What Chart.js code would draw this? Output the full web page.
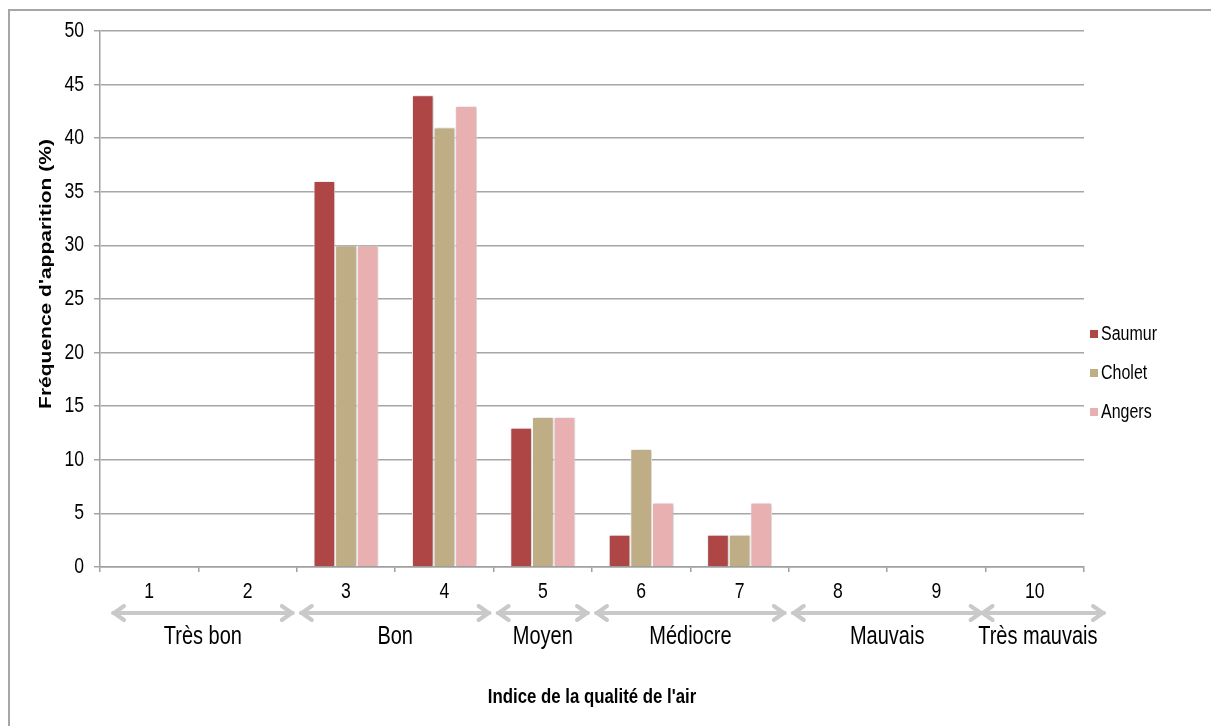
<!DOCTYPE html>
<html><head><meta charset="utf-8">
<script src="https://cdn.jsdelivr.net/npm/chart.js@4.4.0/dist/chart.umd.min.js"></script>
<style>
html,body{margin:0;padding:0;background:#fff;}
#wrap{position:relative;width:1211px;height:726px;overflow:hidden;}
#frame{position:absolute;left:8px;top:9px;width:1240px;height:760px;border:2px solid #a6a6a6;box-sizing:border-box;}
canvas{position:absolute;left:0;top:0;}
</style></head><body>
<div id="wrap"><div id="frame"></div><canvas id="c" width="1211" height="726"></canvas></div>
<script>
const categories = ['1','2','3','4','5','6','7','8','9','10'];
const saumur = [0, 0, 36, 44, 13, 3, 3, 0, 0, 0];
const cholet = [0, 0, 30, 41, 14, 11, 3, 0, 0, 0];
const angers = [0, 0, 30, 43, 14, 6, 6, 0, 0, 0];
const seriesNames = ['Saumur', 'Cholet', 'Angers'];
const seriesColors = ['#ad4645', '#bfad85', '#e8b0b1'];
const yMin = 0, yMax = 50, yStep = 5;
const groupLabels = ['Très bon', 'Bon', 'Moyen', 'Médiocre', 'Mauvais', 'Très mauvais'];
const groupFirst = ['1', '3', '5', '6', '8', '10'];
const groupLast = ['2', '4', '5', '7', '9', '10'];
const yTitle = "Fréquence d'apparition (%)";
const xTitle = "Indice de la qualité de l'air";

const FONT = "'Liberation Sans', Arial, sans-serif";
const SX = 0.8; // condensed look of the original lettering
Chart.defaults.font.family = FONT;
Chart.defaults.color = '#000';

function drawText(ctx, s, x, y, size, bold, align, rotated) {
  ctx.save();
  ctx.translate(x, y);
  if (rotated) { ctx.rotate(-Math.PI / 2); ctx.scale(1, SX); }
  else ctx.scale(SX, 1);
  ctx.font = (bold ? 'bold ' : '') + size + 'px ' + FONT;
  ctx.fillStyle = '#000'; ctx.textAlign = align; ctx.textBaseline = 'middle';
  ctx.fillText(s, 0, 0);
  ctx.restore();
}

const shadowPlugin = {
  id: 'shadow',
  beforeDatasetsDraw(chart) {
    const ctx = chart.ctx; ctx.save();
    ctx.shadowColor = 'rgba(0,0,0,0.28)'; ctx.shadowBlur = 3; ctx.shadowOffsetX = 1; ctx.shadowOffsetY = 0;
  },
  afterDatasetsDraw(chart) { chart.ctx.restore(); }
};

const extrasPlugin = {
  id: 'extras',
  afterDraw(chart) {
    const ctx = chart.ctx, xs = chart.scales.x, ys = chart.scales.y;
    // tick labels
    ys.ticks.forEach((t, i) => drawText(ctx, String(t.value), 84, ys.getPixelForTick(i), 22, false, 'right'));
    categories.forEach((c, i) => drawText(ctx, c, xs.getPixelForValue(i), 592, 22, false, 'center'));
    // axis titles
    drawText(ctx, xTitle, (chart.chartArea.left + chart.chartArea.right) / 2, 697, 21, true, 'center');
    drawText(ctx, yTitle, 46, 274, 21, true, 'center', true);
    // group arrows + labels
    const half = (xs.getPixelForValue(1) - xs.getPixelForValue(0)) / 2;
    const ay = 613, ly = 637, n = groupLabels.length;
    ctx.save();
    ctx.strokeStyle = '#c9c9c9'; ctx.lineWidth = 4; ctx.lineCap = 'round'; ctx.lineJoin = 'round';
    groupLabels.forEach((g, i) => {
      const a = xs.getPixelForValue(categories.indexOf(groupFirst[i])) - half + (i === 0 ? 13 : 4);
      const b = xs.getPixelForValue(categories.indexOf(groupLast[i])) + half + (i === n - 1 ? 20 : -4);
      const a2 = i === n - 1 ? a - 8 : a;
      ctx.beginPath(); ctx.moveTo(a2, ay); ctx.lineTo(b, ay); ctx.stroke();
      ctx.beginPath(); ctx.moveTo(a2 + 11, ay - 7); ctx.lineTo(a2 + 1, ay); ctx.lineTo(a2 + 11, ay + 7); ctx.stroke();
      ctx.beginPath(); ctx.moveTo(b - 11, ay - 7); ctx.lineTo(b - 1, ay); ctx.lineTo(b - 11, ay + 7); ctx.stroke();
      drawText(ctx, g, (a2 + b) / 2 - (i === n - 1 ? 5 : 0), ly, 25, false, 'center');
    });
    ctx.restore();
    // legend
    const lx = 1090, l0 = 334, dy = 39;
    seriesNames.forEach((nm, i) => {
      const y = l0 + i * dy;
      ctx.fillStyle = seriesColors[i]; ctx.fillRect(lx, y - 4, 8, 8);
      drawText(ctx, nm, lx + 11, y, 20, false, 'left');
    });
  }
};

const datasets = [saumur, cholet, angers].map((d, i) => ({
  label: seriesNames[i], data: d, backgroundColor: seriesColors[i],
  borderColor: '#ffffff', borderWidth: 1, borderSkipped: 'bottom',
  categoryPercentage: 0.66, barPercentage: 1.0
}));

new Chart(document.getElementById('c'), {
  type: 'bar',
  data: { labels: categories, datasets },
  plugins: [shadowPlugin, extrasPlugin],
  options: {
    responsive: false, animation: false,
    layout: { padding: { top: 31, right: 127, left: 0, bottom: 0 } },
    plugins: { legend: { display: false }, tooltip: { enabled: false } },
    scales: {
      x: {
        offset: true,
        grid: { offset: true, drawOnChartArea: false, drawTicks: true, tickLength: 5, color: '#a0a0a0', lineWidth: 1.5 },
        border: { color: '#a0a0a0', width: 1.5 },
        ticks: { display: false },
        afterFit(s) { s.height = 159; }
      },
      y: {
        min: yMin, max: yMax,
        ticks: { stepSize: yStep, display: false },
        grid: { color: '#a6a6a6', lineWidth: 1.5, tickLength: 6 },
        border: { color: '#a0a0a0', width: 1.5 },
        afterFit(s) { s.width = 100; }
      }
    }
  }
});
</script>
</body></html>
